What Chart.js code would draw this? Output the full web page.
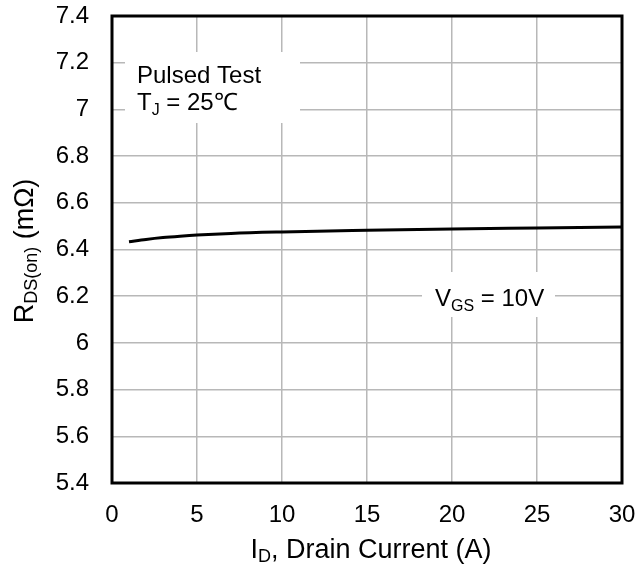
<!DOCTYPE html>
<html><head><meta charset="utf-8">
<script src="https://cdn.jsdelivr.net/npm/chart.js@4"></script>
<style>html,body{margin:0;padding:0;background:#fff}canvas{display:block}</style>
</head><body>
<canvas id="c" width="638" height="564"></canvas>
<script>
const drainCurrent = [1, 2, 3, 4, 5, 7, 10, 15, 20, 25, 30];
const rdsOn = [6.433, 6.443, 6.451, 6.457, 6.462, 6.469, 6.475, 6.482, 6.488, 6.492, 6.496];
const xTickLabels = ['0', '5', '10', '15', '20', '25', '30'];
const yTickLabels = ['5.4', '5.6', '5.8', '6', '6.2', '6.4', '6.6', '6.8', '7', '7.2', '7.4'];

const FAM = '"Liberation Sans", Arial, Helvetica, sans-serif';

function drawRich(ctx, parts, x, y, align, mainSize, subSize, subDy) {
  const MAIN = mainSize + 'px ' + FAM;
  const SUB = subSize + 'px ' + FAM;
  let w = 0;
  parts.forEach(p => { ctx.font = p.sub ? SUB : MAIN; w += ctx.measureText(p.t).width; });
  let cx = align === 'center' ? x - w / 2 : x;
  ctx.textAlign = 'left';
  ctx.textBaseline = 'alphabetic';
  parts.forEach(p => {
    ctx.font = p.sub ? SUB : MAIN;
    ctx.fillText(p.t, cx, y + (p.sub ? subDy : 0));
    cx += ctx.measureText(p.t).width;
  });
}

const decor = {
  id: 'decor',
  beforeDatasetsDraw(chart) {
    const ctx = chart.ctx;
    ctx.save();
    ctx.fillStyle = '#fff';
    ctx.fillRect(125, 52, 175, 71);
    ctx.fillRect(422, 272, 133, 45);
    ctx.restore();
  },
  afterDraw(chart) {
    const ctx = chart.ctx;
    const a = chart.chartArea;
    ctx.save();
    ctx.strokeStyle = '#000';
    ctx.lineWidth = 3;
    ctx.strokeRect(a.left, a.top, a.right - a.left, a.bottom - a.top);
    ctx.fillStyle = '#000';
    drawRich(ctx, [{t: 'Pulsed Test'}], 137, 83, 'left', 24, 16, 5);
    drawRich(ctx, [{t: 'T'}, {t: 'J', sub: true}, {t: ' = 25℃'}], 137, 110, 'left', 24, 16, 5);
    drawRich(ctx, [{t: 'V'}, {t: 'GS', sub: true}, {t: ' = 10V'}], 435, 306, 'left', 24, 16, 5);
    drawRich(ctx, [{t: 'I'}, {t: 'D', sub: true}, {t: ', Drain Current (A)'}], 371, 558, 'center', 27, 18, 4);
    ctx.translate(33, 251);
    ctx.rotate(-Math.PI / 2);
    drawRich(ctx, [{t: 'R'}, {t: 'DS(on)', sub: true}, {t: ' (mΩ)'}], 0, 0, 'center', 27, 18, 4);
    ctx.restore();
  }
};

new Chart(document.getElementById('c'), {
  type: 'line',
  data: {
    datasets: [{
      data: drainCurrent.map((x, i) => ({x: x, y: rdsOn[i]})),
      borderColor: '#000',
      borderWidth: 3,
      pointRadius: 0,
      fill: false,
      cubicInterpolationMode: 'monotone'
    }]
  },
  options: {
    responsive: false,
    animation: false,
    layout: {padding: 0},
    plugins: {legend: {display: false}, tooltip: {enabled: false}},
    scales: {
      x: {
        type: 'linear', min: 0, max: 30,
        ticks: {stepSize: 5, padding: 18, color: '#000', font: {family: FAM, size: 24},
          callback: (v, i) => xTickLabels[i]},
        grid: {color: '#b8b8b8', lineWidth: 1.5, drawTicks: false},
        border: {display: false},
        afterFit(s) { s.height = 81; s.paddingRight = 16; s.paddingLeft = 0; }
      },
      y: {
        type: 'linear', min: 5.4, max: 7.4,
        ticks: {stepSize: 0.2, padding: 23, color: '#000', font: {family: FAM, size: 24},
          callback: (v, i) => yTickLabels[i]},
        grid: {color: '#b8b8b8', lineWidth: 1.5, drawTicks: false},
        border: {display: false},
        afterFit(s) { s.width = 112; s.paddingTop = 16; s.paddingBottom = 0; }
      }
    }
  },
  plugins: [decor]
});
</script>
</body></html>
